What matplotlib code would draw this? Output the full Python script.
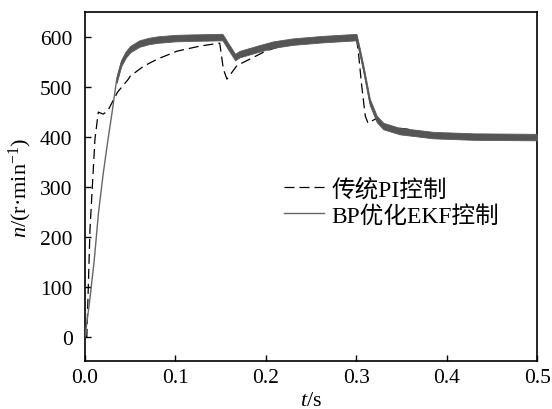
import numpy as np
import matplotlib.pyplot as plt

plt.rcParams['font.family'] = ['Liberation Serif', 'Noto Sans CJK SC']
plt.rcParams['mathtext.fontset'] = 'custom'
plt.rcParams['mathtext.rm'] = 'Liberation Serif'
plt.rcParams['mathtext.it'] = 'Liberation Serif:italic'

# BP-optimised EKF control (solid)
t_ekf = [0, 0.005, 0.01, 0.015, 0.02, 0.025, 0.03, 0.035, 0.04, 0.045, 0.05,
         0.06, 0.07, 0.08, 0.1, 0.12, 0.15, 0.152, 0.16, 0.166, 0.171, 0.19,
         0.208, 0.23, 0.263, 0.3, 0.3005, 0.304, 0.308, 0.315, 0.3227, 0.33,
         0.348, 0.385, 0.43, 0.5]
n_ekf = [0, 70, 150, 250, 325, 390, 450, 515, 548, 565, 576,
         587, 592, 595, 598, 599, 600, 600, 577, 560, 566, 576,
         585, 591, 596, 600, 598, 570, 536, 470, 436, 422,
         412, 404, 401, 400]

# conventional PI control (dashed)
t_pi = [0, 0.002, 0.0055, 0.011, 0.0147, 0.02, 0.025, 0.036, 0.048, 0.05,
        0.065, 0.08, 0.102, 0.127, 0.149, 0.153, 0.157, 0.168, 0.19, 0.201,
        0.23, 0.263, 0.3, 0.302, 0.306, 0.31, 0.313, 0.321, 0.337, 0.356,
        0.385, 0.43, 0.5]
n_pi = [0, 0, 215, 396, 450, 446, 452, 490, 516, 522,
        542, 556, 572, 582, 588, 536, 516, 543, 563, 573,
        589, 595, 598, 576, 503, 442, 428, 436, 420, 416,
        405, 401, 400]

t_ekf = np.array(t_ekf)
n_ekf = np.array(n_ekf)
band = t_ekf >= 0.035
ripple = 6.5   # half width of the speed ripple band

fig = plt.figure(figsize=(5.52, 4.10), dpi=100)
ax = fig.add_axes([0.154, 0.117, 0.819, 0.851])

ax.plot(t_pi, n_pi, color='black', lw=0.9, dashes=(8, 4), label='传统PI控制', zorder=2)
ax.plot(t_ekf, n_ekf, color='#666666', lw=1.0, label='BP优化EKF控制', zorder=3)
ax.fill_between(t_ekf[band], n_ekf[band] - ripple, n_ekf[band] + ripple,
                color='#555555', lw=0.6, edgecolor='#5a5a5a', zorder=3)

ax.set_xlim(0, 0.5)
ax.set_ylim(-48, 650)
ax.set_xticks(np.arange(0, 0.51, 0.1))
ax.set_xticklabels(['0.0', '0.1', '0.2', '0.3', '0.4', '0.5'])
ax.set_yticks(np.arange(0, 601, 100))
ax.tick_params(direction='in', length=4, width=1, labelsize=15.5)
ax.tick_params(axis='y', pad=9)
ax.tick_params(axis='x', pad=5)
for s in ax.spines.values():
    s.set_linewidth(1.2)

ax.set_xlabel('$t$/s', fontsize=16, labelpad=3)
ax.set_ylabel('$n$/(r·min$^{-1}$)', fontsize=16, labelpad=4)

ax.legend(loc='center left', bbox_to_anchor=(0.42, 0.455), frameon=False,
          fontsize=17, handlelength=1.7, handletextpad=0.3, labelspacing=0.2,
          borderaxespad=0)

fig.savefig('out.png', dpi=100)
